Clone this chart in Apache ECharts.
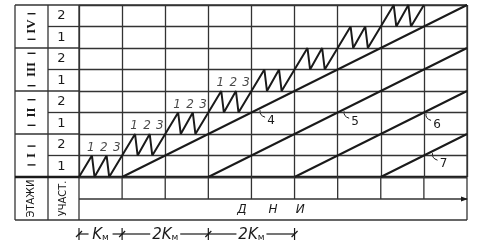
<!DOCTYPE html>
<html><head><meta charset="utf-8">
<script src="https://cdn.jsdelivr.net/npm/echarts@6/dist/echarts.min.js"></script>
<style>html,body{margin:0;padding:0;background:#fff}#c{width:478px;height:240px}</style>
</head><body><div id="c"></div>
<script>
// ---- data ----
const dayColumns = 9;
const storeyRows = 8;
const floors = ['I', 'II', 'III', 'IV'];
const sectionLabels = ['1', '2'];
const captureLabels = ['1', '2', '3'];
const labelledGroups = 4;
const groupStartDay = [0, 1, 2, 3, 4, 5, 6, 7];
const groupStartRow = [0, 1, 2, 3, 4, 5, 6, 7];
const zigDayOffsets = [0.3, 0.36, 0.64, 0.7];
const zigRowOffsets = [1, 0, 1, 0];
const captureLabelDayOffsets = [0.3, 0.6, 0.9];
const flowLineNames = ['4', '5', '6', '7'];
const flowStartDay = [1, 3, 5, 7];
const flowEndDay = [9, 9, 9, 9];
const flowEndRow = [8, 6, 4, 2];
const flowLabelDay = [4.2, 6.15, 8.05, 8.2];
const dimensionLabels = ['', '2', '2'];
const dimensionTicks = [0, 1, 3, 5];
const daysWord = ['Д', 'Н', 'И'];
const headerFloors = 'ЭТАЖИ';
const headerSections = 'УЧАСТ.';

// ---- layout ----
const GL = 79, GT = 5, GW = 388, GH = 172;
const X0 = 15, X1 = 48, YSUB = 199, YBOT = 220;
const px = d => GL + d * GW / dayColumns;
const py = r => GT + GH - r * GH / storeyRows;
const INK = '#1a1a1a', GRID = '#333';

// zigzag
const zig = [[groupStartDay[0], groupStartRow[0]]];
groupStartDay.forEach((d, i) => {
  zigDayOffsets.forEach((o, j) => zig.push([d + o, groupStartRow[i] + zigRowOffsets[j]]));
});
zig.push([groupStartDay[groupStartDay.length - 1] + 1, groupStartRow[groupStartRow.length - 1] + 1]);

const capPts = [];
for (let g = 0; g < labelledGroups; g++) {
  captureLabels.forEach((t, j) => capPts.push({ value: [groupStartDay[g] + captureLabelDayOffsets[j], groupStartRow[g] + 1], name: t }));
}

const series = [{
  type: 'line', data: zig, symbol: 'none', silent: true,
  lineStyle: { color: INK, width: 2 }
}, {
  type: 'scatter', data: capPts, symbolSize: 0, silent: true,
  label: { show: true, position: 'inside', offset: [-1, -8], formatter: p => p.name,
    color: INK, fontSize: 12, fontStyle: 'italic', fontFamily: 'DejaVu Sans' }
}];
flowLineNames.forEach((n, i) => series.push({
  type: 'line', name: n, symbol: 'none', silent: true,
  data: [[flowStartDay[i], 0], [flowEndDay[i], flowEndRow[i]]],
  lineStyle: { color: INK, width: 2 }
}));

const g = [];
const ln = (x1, y1, x2, y2, w, c) => g.push({ type: 'line', silent: true, shape: { x1, y1, x2, y2 }, style: { stroke: c || GRID, lineWidth: w || 1.3 } });
const tx = (x, y, text, font, rot, extra) => g.push(Object.assign({ type: 'text', silent: true, x, y, rotation: rot || 0,
  style: Object.assign({ text, font, fill: INK, align: 'center', verticalAlign: 'middle' }, extra || {}) }));

// table frame
ln(X0, GT, px(dayColumns), GT);
ln(X0, GT, X0, YBOT); ln(X1, GT, X1, YBOT); ln(GL, GT, GL, YBOT); ln(px(dayColumns), GT, px(dayColumns), YBOT);
for (let r = 1; r < storeyRows; r++) ln(r % 2 === 0 ? X0 : X1, py(r), GL, py(r));
ln(X0, py(0), px(dayColumns), py(0), 2.6, INK);
ln(X0, YBOT, px(dayColumns), YBOT);
ln(GL, YSUB, px(dayColumns), YSUB);
g.push({ type: 'polygon', silent: true, shape: { points: [[px(dayColumns) + 1, YSUB], [px(dayColumns) - 6, YSUB - 2.5], [px(dayColumns) - 6, YSUB + 2.5]] }, style: { fill: INK } });
for (let d = 1; d < dayColumns; d++) ln(px(d), py(0), px(d), YSUB);

// left labels
floors.forEach((f, i) => {
  const cy = (py(2 * i) + py(2 * i + 2)) / 2;
  tx((X0 + X1) / 2, cy, f, 'bold 13px "Liberation Serif"', Math.PI / 2);
  const hl = f.length * 3.4 + 6;
  ln((X0 + X1) / 2 - 4, cy - hl, (X0 + X1) / 2 + 4, cy - hl, 1.4, INK);
  ln((X0 + X1) / 2 - 4, cy + hl, (X0 + X1) / 2 + 4, cy + hl, 1.4, INK);
  sectionLabels.forEach((s, j) => {
    tx((X1 + GL) / 2 - 2, (py(2 * i + j) + py(2 * i + j + 1)) / 2, s, '13px "DejaVu Sans"');
  });
});
tx((X0 + X1) / 2, (py(0) + YBOT) / 2, headerFloors, '11px "DejaVu Sans Condensed"', Math.PI / 2);
tx((X1 + GL) / 2, (py(0) + YBOT) / 2, headerSections, '11px "DejaVu Sans Condensed"', Math.PI / 2);

// days word
[3.78, 4.5, 5.13].forEach((d, i) => tx(px(d), 210, daysWord[i], 'italic 12px "DejaVu Sans"'));

// flow line labels with leaders
flowLineNames.forEach((n, i) => {
  const d = flowLabelDay[i];
  const r = flowEndRow[i] * (d - flowStartDay[i]) / (flowEndDay[i] - flowStartDay[i]);
  const x = px(d), y = py(r);
  g.push({ type: 'bezierCurve', silent: true, shape: { x1: x, y1: y + 2, x2: x + 5, y2: y + 9, cpx1: x - 1, cpy1: y + 7 }, style: { stroke: INK, lineWidth: 1, fill: null } });
  tx(x + 11, y + 13, n, '12px "DejaVu Sans"');
});

// dimension line
const DY = 234;
dimensionTicks.forEach(d => {
  ln(px(d), DY - 6, px(d), 240, 1.2, INK);
  ln(px(d) - 3, DY + 3, px(d) + 3, DY - 3, 1.2, INK);
});
for (let k = 0; k < dimensionTicks.length - 1; k++) {
  const a = px(dimensionTicks[k]), b = px(dimensionTicks[k + 1]);
  const c = (a + b) / 2, half = dimensionLabels[k] ? 12 : 9;
  ln(a, DY, c - half - 3, DY, 1.2, INK);
  ln(c + half + 3, DY, b, DY, 1.2, INK);
  g.push({ type: 'text', silent: true, x: c, y: DY + 1, style: {
    text: '{k|' + dimensionLabels[k] + 'K}{s|м}', align: 'center', verticalAlign: 'middle',
    rich: { k: { font: 'italic 15px "DejaVu Sans"', fill: INK }, s: { font: '9px "DejaVu Sans"', fill: INK, padding: [6, 0, 0, 0] } } } });
}

const chart = echarts.init(document.getElementById('c'), null, { renderer: 'canvas' });
chart.setOption({
  animation: false,
  backgroundColor: '#fff',
  grid: { left: GL, top: GT, width: GW, height: GH },
  xAxis: { type: 'value', min: 0, max: dayColumns, interval: 1, axisLine: { show: false }, axisTick: { show: false }, axisLabel: { show: false },
    splitLine: { show: true, lineStyle: { color: GRID, width: 1.3 } } },
  yAxis: { type: 'value', min: 0, max: storeyRows, interval: 1, axisLine: { show: false }, axisTick: { show: false }, axisLabel: { show: false },
    splitLine: { show: true, lineStyle: { color: GRID, width: 1.3 } } },
  series,
  graphic: g
});
</script></body></html>
